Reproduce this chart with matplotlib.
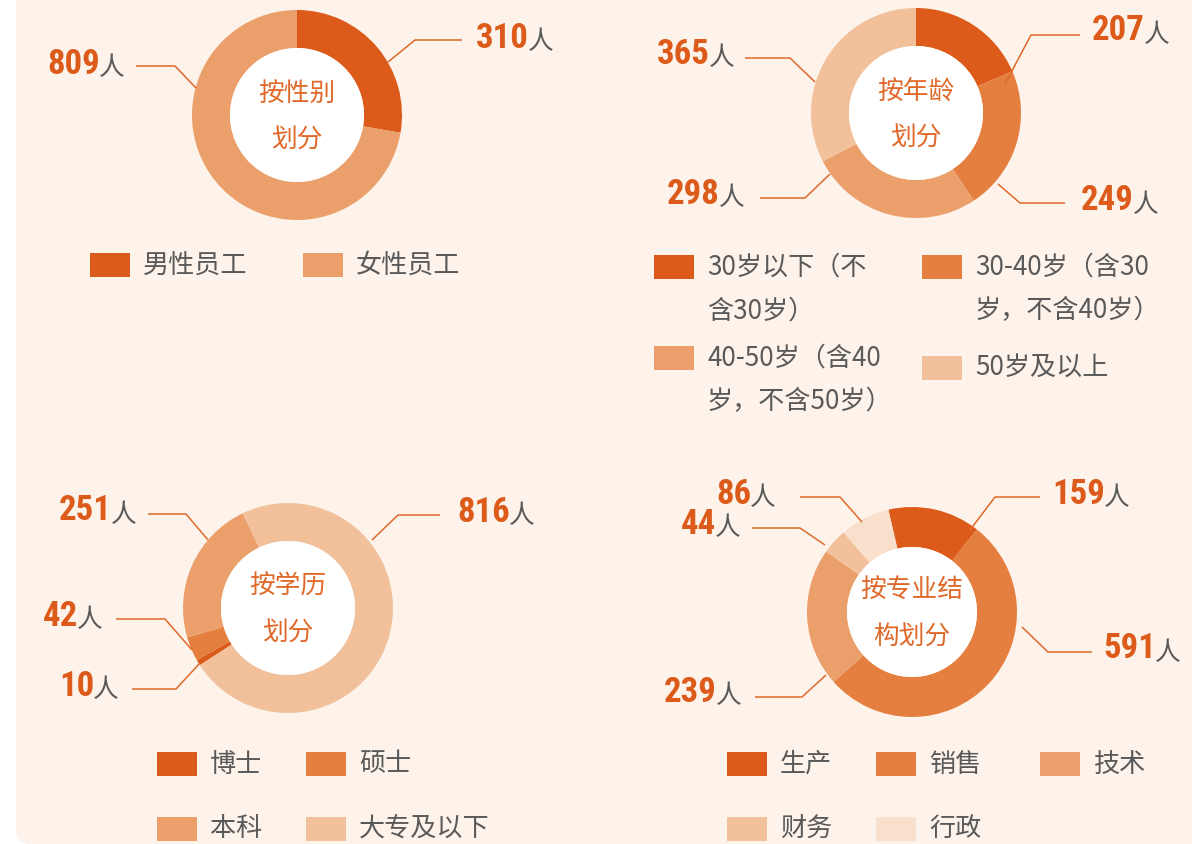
import numpy as np
import matplotlib
matplotlib.use('Agg')
import matplotlib.pyplot as plt
from matplotlib.patches import Circle, Rectangle, FancyBboxPatch
from matplotlib.patheffects import AbstractPathEffect
from matplotlib.transforms import Affine2D, Bbox
from matplotlib.text import Text
from matplotlib import font_manager

plt.rcParams['font.family'] = ['Noto Sans CJK SC', 'DejaVu Sans']

# ---- data ----
gender_labels = ['男性员工', '女性员工']
gender_values = [310, 809]

age_labels = ['30岁以下（不\n含30岁）', '30-40岁（含30\n岁，不含40岁）',
              '40-50岁（含40\n岁，不含50岁）', '50岁及以上']
age_values = [207, 249, 298, 365]

edu_labels = ['博士', '硕士', '本科', '大专及以下']
edu_values = [10, 42, 251, 816]

major_labels = ['生产', '销售', '技术', '财务', '行政']
major_values = [159, 591, 239, 44, 86]

C = ['#dd5b1a', '#e47f40', '#eba06c', '#f2c19c', '#f8e0cd']
BG = '#fdf3ea'
ORANGE = '#e0692a'
GRAY = '#595959'

# a real condensed font if there is one, else squeeze Roboto by hand
NUMFAMILY, SX = ['Roboto', 'DejaVu Sans'], 0.72
for fam in ['Roboto Condensed', 'Liberation Sans Narrow', 'Open Sans Condensed']:
    try:
        font_manager.findfont(font_manager.FontProperties(family=fam, weight='bold'),
                              fallback_to_default=False)
        NUMFAMILY, SX = [fam, 'DejaVu Sans'], 1.0
        break
    except ValueError:
        pass


class Squeeze(AbstractPathEffect):
    # narrows glyphs horizontally, keeping the left edge in place
    def __init__(self, sx):
        super().__init__()
        self.sx = sx

    def draw_path(self, renderer, gc, tpath, affine, rgbFace=None):
        renderer.draw_path(gc, tpath, Affine2D().scale(self.sx, 1) + affine, rgbFace)


class NarrowText(Text):
    # report the squeezed width so the extent matches what is drawn
    def get_window_extent(self, renderer=None, dpi=None):
        bb = super().get_window_extent(renderer, dpi)
        return Bbox.from_extents(bb.x0, bb.y0, bb.x0 + SX * bb.width, bb.y1)


fig = plt.figure(figsize=(11.92, 8.44), dpi=100, facecolor='white')
ax = fig.add_axes([0, 0, 1, 1])
ax.axis('off')

ax.add_patch(FancyBboxPatch((16, -40), 1250, 884, boxstyle='round,pad=0,rounding_size=14',
                            fc=BG, ec='none', zorder=0))


def donut(cx, cy, values, colors, start, title, r_in=67):
    # y axis is inverted: data ccw == screen cw
    ax.pie(values, colors=colors, startangle=-start, counterclock=True,
           center=(cx, cy), radius=105,
           wedgeprops=dict(width=105 - r_in, linewidth=0))
    ax.add_patch(Circle((cx, cy), r_in, fc='white', ec='none', zorder=3))
    for i, ln in enumerate(title.split('\n')):
        ax.text(cx, cy - 21 + i * 47, ln, ha='center', va='center',
                fontsize=18.5, color=ORANGE, zorder=4)


def callout(value, pts, tx, ty):
    xs, ys = zip(*pts)
    ax.plot(xs, ys, color=ORANGE, lw=1.1, zorder=5, solid_capstyle='butt')
    pe = [Squeeze(SX)] if SX < 1 else []
    t = NarrowText(tx, ty, str(value), ha='left', va='center', fontsize=25,
                   fontweight='bold', family=NUMFAMILY,
                   color='#dd5b1a', zorder=5, path_effects=pe)
    ax.add_artist(t)
    return t


def legend(items, colors, pos):
    for (lab, col), (x, y) in zip(zip(items, colors), pos):
        ax.add_patch(Rectangle((x, y - 12), 40, 24, fc=col, ec='none', zorder=3))
        for i, ln in enumerate(lab.split('\n')):
            ax.text(x + 53, y + i * 44, ln, ha='left', va='center',
                    fontsize=18.8, color=GRAY, zorder=3)


# chart 1: gender
donut(297, 115, gender_values, [C[0], C[2]], 90, '按性别\n划分')
nums = []
nums.append(callout(gender_values[0], [(388, 62), (415, 40), (462, 40)], 476, 38))
nums.append(callout(gender_values[1], [(196, 88), (175, 66), (136, 66)], 47, 64))
legend(gender_labels, [C[0], C[2]], [(90, 265), (303, 265)])

# chart 2: age
donut(916, 113, age_values, C[:4], 90, '按年龄\n划分')
nums.append(callout(age_values[0], [(1005, 84), (1031, 35), (1080, 35)], 1092, 31))
nums.append(callout(age_values[1], [(998, 184), (1020, 203), (1065, 203)], 1081, 201))
nums.append(callout(age_values[2], [(830, 174), (805, 198), (760, 198)], 667, 194))
nums.append(callout(age_values[3], [(815, 82), (790, 58), (745, 58)], 657, 54))
legend(age_labels, C[:4], [(654, 267), (922, 267), (654, 358), (922, 368)])

# chart 3: education
donut(288, 608, edu_values, C[:4], 213, '按学历\n划分')
nums.append(callout(edu_values[0], [(200, 663), (176, 689), (132, 689)], 59, 686))
nums.append(callout(edu_values[1], [(192, 650), (165, 619), (116, 619)], 43, 616))
nums.append(callout(edu_values[2], [(208, 540), (186, 514), (148, 514)], 59, 511))
nums.append(callout(edu_values[3], [(372, 540), (398, 515), (440, 515)], 457, 512))
legend(edu_labels, C[:4], [(157, 764), (306, 764), (157, 829), (306, 829)])

# chart 4: major
donut(912, 612, major_values, C, 103, '按专业结\n构划分', r_in=65)
nums.append(callout(major_values[0], [(970, 530), (995, 497), (1040, 497)], 1052, 494))
nums.append(callout(major_values[1], [(1022, 627), (1048, 652), (1092, 652)], 1103, 649))
nums.append(callout(major_values[2], [(826, 675), (802, 697), (755, 697)], 664, 692))
nums.append(callout(major_values[3], [(825, 545), (800, 528), (752, 528)], 681, 524))
nums.append(callout(major_values[4], [(862, 522), (840, 497), (800, 497)], 716, 494))
legend(major_labels, C, [(727, 764), (876, 764), (1040, 764), (727, 829), (876, 829)])

ax.set_xlim(0, 1192)
ax.set_ylim(844, 0)
ax.set_aspect('auto')

# put "人" right after every number
fig.canvas.draw()
r = fig.canvas.get_renderer()
inv = ax.transData.inverted()
for t in nums:
    bb = t.get_window_extent(r)
    x1, _ = inv.transform((bb.x1, bb.y0))
    _, yc = t.get_position()
    ax.text(x1 - 1, yc + 4, '人', ha='left', va='center', fontsize=18.5,
            color=GRAY, zorder=5)

fig.savefig('out.png', dpi=100, facecolor='white')
